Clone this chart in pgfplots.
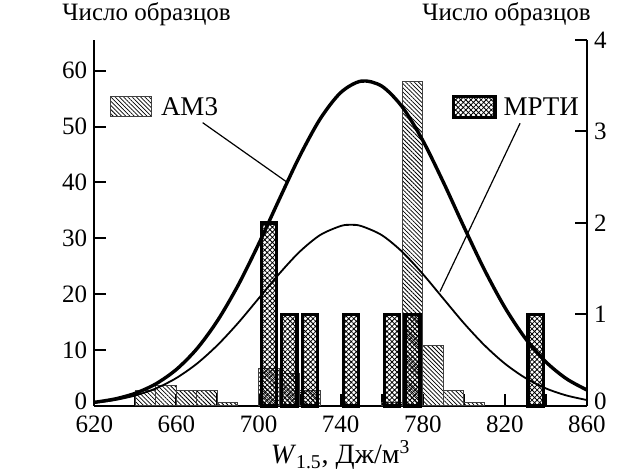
\documentclass[border=0pt]{standalone}
\usepackage{fontspec}
\setmainfont{Liberation Serif}
\usepackage{pgfplots}
\pgfplotsset{compat=1.18}
\usetikzlibrary{patterns.meta}

\tikzset{
  amhatch/.style={pattern={Lines[angle=-45,distance=1.5pt,line width=0.4pt]}, pattern color=black},
  mphatch/.style={pattern={Hatch[angle=45,distance=1.8pt,line width=0.4pt]}, pattern color=black},
}
\pgfplotsset{
  base/.style={
    scale only axis, width=246.35pt, height=183pt,
    xmin=620, xmax=860,
    tick align=inside, major tick length=6pt, minor tick length=6pt,
    every tick/.style={black, line width=1pt},
    axis line style={line width=1.2pt, -},
    tick label style={font=\fontsize{12.5}{14}\selectfont},
    /pgf/number format/assume math mode=true,
    extra y ticks={0},
    extra y tick style={yticklabel style={yshift=2.5pt}},
    clip=false,
  },
}

\begin{document}
\begin{tikzpicture}

%% left scale: AM3 histogram and its fit
\begin{axis}[base,
  axis x line*=bottom, axis y line*=left,
  xtick pos=bottom, ytick pos=left,
  ymin=0, ymax=65.5,
  xtick={620,660,...,860}, minor xtick={640,680,...,840},
  ytick={10,20,...,60},
  xticklabel style={yshift=-1.5pt},
  xlabel={\textit{W}\textsubscript{1.5}, Дж/м\textsuperscript{3}},
  xlabel style={font=\fontsize{14}{16}\selectfont, at={(axis description cs:0.5,0)}, anchor=base, yshift=-29pt},
]
\addplot[ybar, bar width=10, bar shift=0pt, draw=black!75, line width=0.5pt, amhatch]
  coordinates {(645,2.7)(655,3.6)(665,2.7)(675,2.7)(685,0.7)
               (705,6.7)(715,5.8)(725,2.8)
               (765,0.7)(775,58.0)(785,10.8)(795,2.7)(805,0.7)};
\addplot[line width=1.7pt, smooth, no marks] coordinates {
  (620,0.65)(630,1.25)(640,2.28)(650,3.96)(660,6.54)(670,10.25)(680,15.26)
  (690,21.56)(700,28.95)(710,36.90)(720,44.67)(730,51.36)(740,56.08)(750,58.14)
  (760,57.25)(770,53.53)(780,47.53)(790,40.08)(800,32.10)(810,24.41)(820,17.63)
  (830,12.09)(840,7.88)(850,4.87)(860,2.86)};

% legend and pointer
\draw[draw=black!75, line width=0.5pt, amhatch] (axis cs:628.1,51.8) rectangle (axis cs:648.1,55.3);
\node[anchor=west, inner sep=0pt, font=\fontsize{13.5}{15}\selectfont] at (axis cs:652.3,53.5) {АМ3};
\draw[line width=0.6pt] (axis cs:672.8,50.7) -- (axis cs:713.7,40.1);

\node[anchor=base west, inner sep=0pt, font=\fontsize{12.5}{14}\selectfont] at (axis cs:604.3,68.9) {Число образцов};
\end{axis}

%% right scale: MPTI histogram and its fit
\begin{axis}[base,
  axis x line=none, axis y line*=right, ytick pos=right,
  ymin=0, ymax=4,
  ytick={1,2,3,4},
]
\addplot[ybar, bar width=7.4, bar shift=0pt, draw=black, line width=1.6pt, mphatch]
  coordinates {(705,2)(715,1)(725,1)(745,1)(765,1)(775,1)(835,1)};
\addplot[line width=0.9pt, smooth, no marks] coordinates {
  (620,0.035)(630,0.065)(640,0.115)(650,0.192)(660,0.306)(670,0.463)(680,0.665)
  (690,0.906)(700,1.174)(710,1.443)(720,1.685)(730,1.868)(740,1.967)(745,1.98)
  (750,1.967)(760,1.868)(770,1.685)(780,1.443)(790,1.174)(800,0.906)(810,0.665)
  (820,0.463)(830,0.306)(840,0.192)(850,0.115)(860,0.065)};

\draw[draw=black, line width=1.6pt, mphatch] (axis cs:794.9,3.15) rectangle (axis cs:815.2,3.38);
\node[anchor=west, inner sep=0pt, font=\fontsize{13.5}{15}\selectfont] at (axis cs:819.2,3.27) {МРТИ};
\draw[line width=0.6pt] (axis cs:827.4,3.09) -- (axis cs:788.4,1.25);

\node[anchor=base east, inner sep=0pt, font=\fontsize{12.5}{14}\selectfont] at (axis cs:862,4.21) {Число образцов};
\end{axis}

\pgfresetboundingbox
\path[use as bounding box] (-47.15pt,-34pt) rectangle (261.85pt,203pt);
\end{tikzpicture}
\end{document}
